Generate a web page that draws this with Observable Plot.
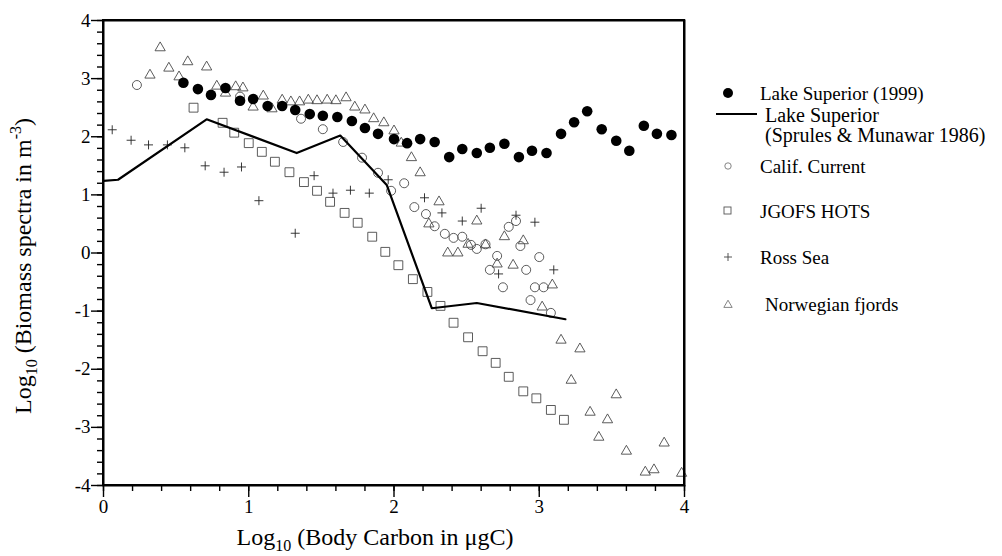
<!DOCTYPE html>
<html><head><meta charset="utf-8">
<script src="https://cdn.jsdelivr.net/npm/d3@7"></script>
<script src="https://cdn.jsdelivr.net/npm/@observablehq/plot@0.6"></script>
<style>body{margin:0;background:#fff;} #wrap{position:relative;width:1002px;height:556px;}</style>
</head><body><div id="wrap"></div>
<script>
// Lake Superior (1999) — filled circles
const superiorX = [0.55,0.65,0.74,0.84,0.94,1.03,1.13,1.23,1.32,1.42,1.51,1.61,1.71,1.80,1.89,2.00,2.09,2.18,2.28,2.38,2.47,2.57,2.66,2.76,2.86,2.95,3.05,3.15,3.24,3.33,3.43,3.53,3.62,3.72,3.81,3.91];
const superiorY = [2.93,2.82,2.72,2.84,2.62,2.65,2.53,2.53,2.46,2.39,2.36,2.34,2.27,2.15,2.05,1.96,1.89,1.96,1.91,1.65,1.79,1.72,1.81,1.88,1.65,1.76,1.72,2.05,2.25,2.44,2.13,1.93,1.76,2.19,2.05,2.03];
// Lake Superior (Sprules & Munawar 1986) — line
const sprulesX = [0,0.10,0.71,1.33,1.63,1.95,2.26,2.57,3.18];
const sprulesY = [1.24,1.26,2.30,1.72,2.02,1.17,-0.95,-0.86,-1.14];
// Calif. Current — open circles
const califX = [0.23,0.94,1.36,1.51,1.65,1.78,1.89,1.98,2.07,2.14,2.22,2.28,2.35,2.41,2.47,2.53,2.57,2.63,2.71,2.66,2.75,2.79,2.84,2.87,2.91,3.00,2.97,3.03,2.94,3.08];
const califY = [2.89,2.69,2.31,2.13,1.91,1.64,1.38,1.07,1.20,0.79,0.67,0.46,0.33,0.26,0.28,0.14,0.07,0.15,-0.05,-0.29,-0.59,0.45,0.55,0.12,-0.29,-0.07,-0.59,-0.59,-0.81,-1.03];
// JGOFS HOTS — open squares
const jgofsX = [0.62,0.82,0.90,1.00,1.09,1.18,1.28,1.38,1.47,1.56,1.66,1.75,1.85,1.94,2.03,2.13,2.23,2.32,2.41,2.51,2.61,2.70,2.79,2.89,2.98,3.08,3.17];
const jgofsY = [2.50,2.24,2.07,1.89,1.74,1.57,1.39,1.22,1.07,0.88,0.69,0.52,0.28,0.02,-0.21,-0.45,-0.67,-0.91,-1.20,-1.45,-1.69,-1.89,-2.13,-2.38,-2.50,-2.70,-2.87];
// Ross Sea — plus signs
const rossX = [0.06,0.19,0.31,0.44,0.56,0.70,0.83,0.95,1.07,1.32,1.45,1.58,1.70,1.83,1.96,2.21,2.33,2.47,2.60,2.84,2.97,3.10,2.72];
const rossY = [2.12,1.94,1.86,1.86,1.81,1.50,1.39,1.48,0.90,0.34,1.33,1.03,1.08,1.03,1.26,0.95,0.69,0.55,0.77,0.65,0.53,-0.29,-0.36];
// Norwegian fjords — open triangles
const norwX = [0.39,0.32,0.45,0.58,0.71,0.52,0.78,0.84,0.91,0.96,1.03,1.10,1.16,1.23,1.29,1.35,1.41,1.47,1.54,1.60,1.67,1.73,1.80,1.86,1.93,2.00,2.05,2.12,2.18,2.31,2.24,2.37,2.44,2.51,2.57,2.63,2.71,2.76,2.82,2.89,3.09,3.02,3.15,3.28,3.22,3.53,3.35,3.47,3.41,3.60,3.86,3.73,3.79,3.98];
const norwY = [3.53,3.06,3.18,3.29,3.20,3.03,2.87,2.75,2.86,2.84,2.51,2.70,2.48,2.63,2.60,2.60,2.63,2.62,2.63,2.62,2.67,2.51,2.46,2.31,2.24,2.10,1.89,1.64,1.38,0.88,0.50,0.00,0.00,0.15,0.55,0.14,-0.19,0.28,-0.21,0.21,-0.55,-0.93,-1.50,-1.65,-2.19,-2.44,-2.74,-2.87,-3.17,-3.41,-3.27,-3.77,-3.73,-3.79];

const xDomain = [0, 4];
const yDomain = [-4, 4];
const xMajor = [0,1,2,3,4];
const yMajor = [-4,-3,-2,-1,0,1,2,3,4];
const xMinor = d3.range(0, 4.0001, 0.2);
const yMinor = d3.range(-4, 4.0001, 0.2);

const pts = (xs, ys) => xs.map((x, i) => ({x, y: ys[i]}));
const superior = pts(superiorX, superiorY);
const sprules = pts(sprulesX, sprulesY);
const calif = pts(califX, califY);
const jgofs = pts(jgofsX, jgofsY);
const ross = pts(rossX, rossY);
const norw = pts(norwX, norwY);

const hollow = "#4a4a4a";
const font = "Liberation Serif, Times New Roman, serif";

const chart = Plot.plot({
  width: 1002, height: 556,
  marginLeft: 103, marginRight: 318, marginTop: 20, marginBottom: 71,
  style: {fontFamily: font, color: "black", background: "white"},
  x: {domain: xDomain, label: null},
  y: {domain: yDomain, label: null},
  marks: [
    Plot.axisX(xMinor, {tickSize: 6, tickFormat: () => "", strokeWidth: 1.4, label: null}),
    Plot.axisX(xMajor, {tickSize: 12, tickPadding: 2, tickFormat: d => String(d), fontSize: 19, strokeWidth: 1.4, label: null}),
    Plot.axisY(yMinor, {tickSize: 6, tickFormat: () => "", strokeWidth: 1.4, label: null}),
    Plot.axisY(yMajor, {tickSize: 12, tickPadding: 1, tickFormat: d => String(d), fontSize: 19, strokeWidth: 1.4, label: null}),
    Plot.dot(norw, {x: "x", y: "y", symbol: "triangle", r: 3.8, stroke: hollow, strokeWidth: 0.9, fill: "none"}),
    Plot.dot(calif, {x: "x", y: "y", symbol: "circle", r: 4.5, stroke: hollow, strokeWidth: 0.9, fill: "none"}),
    Plot.dot(jgofs, {x: "x", y: "y", symbol: "square", r: 5, stroke: hollow, strokeWidth: 0.9, fill: "none"}),
    Plot.dot(ross, {x: "x", y: "y", symbol: "plus", r: 3, stroke: "#222", strokeWidth: 0.9}),
    Plot.line(sprules, {x: "x", y: "y", stroke: "black", strokeWidth: 2.2}),
    Plot.dot(superior, {x: "x", y: "y", r: 5.3, fill: "black", stroke: "none"}),
    Plot.frame({stroke: "black", strokeWidth: 2})
  ]
});
document.getElementById("wrap").appendChild(chart);

const svg = d3.select(chart);
// Plot frame edges, positioned through the chart's own scales
const sx = chart.scale("x"), sy = chart.scale("y");
const fx0 = sx.apply(xDomain[0]), fx1 = sx.apply(xDomain[1]);
const fy0 = sy.apply(yDomain[1]), fy1 = sy.apply(yDomain[0]);
const edges = [[fx0, fy0, fx1, fy0], [fx1, fy0, fx1, fy1], [fx0, fy1, fx1, fy1], [fx0, fy0, fx0, fy1]];
svg.append("g").selectAll("line").data(edges).join("line")
  .attr("x1", d => d[0]).attr("y1", d => d[1]).attr("x2", d => d[2]).attr("y2", d => d[3])
  .attr("stroke", "#000").attr("stroke-width", 2).attr("stroke-linecap", "square");

// Axis titles
const xt = svg.append("text").attr("x", 375).attr("y", 545).attr("text-anchor", "middle")
  .attr("font-family", font).attr("font-size", 24).attr("fill", "black");
xt.append("tspan").text("Log");
xt.append("tspan").attr("font-size", 16).attr("dy", 6).text("10");
xt.append("tspan").attr("dy", -6).text(" (Body Carbon in \u03bcgC)");

const yt = svg.append("text").attr("transform", "translate(31,266) rotate(-90)").attr("text-anchor", "middle")
  .attr("font-family", font).attr("font-size", 24).attr("fill", "black");
yt.append("tspan").text("Log");
yt.append("tspan").attr("font-size", 16).attr("dy", 6).text("10");
yt.append("tspan").attr("dy", -6).text(" (Biomass spectra in m");
yt.append("tspan").attr("font-size", 16).attr("dy", -10).text("-3");
yt.append("tspan").attr("dy", 10).text(")");

// Legend
const lg = svg.append("g").attr("font-family", font).attr("font-size", 19).attr("fill", "black").attr("text-anchor", "start");
lg.append("circle").attr("cx", 728).attr("cy", 93).attr("r", 5).attr("fill", "black");
lg.append("text").attr("x", 760).attr("y", 93).attr("dy", "0.35em").text("Lake Superior (1999)");
lg.append("line").attr("x1", 716).attr("x2", 757).attr("y1", 114).attr("y2", 114).attr("stroke", "black").attr("stroke-width", 2.2);
lg.append("text").attr("x", 765).attr("y", 115).attr("dy", "0.35em").attr("font-size", 20).text("Lake Superior");
lg.append("text").attr("x", 765).attr("y", 135).attr("dy", "0.35em").attr("font-size", 20).text("(Sprules & Munawar 1986)");
lg.append("circle").attr("cx", 728).attr("cy", 166).attr("r", 3.2).attr("fill", "none").attr("stroke", "#777").attr("stroke-width", 0.9);
lg.append("text").attr("x", 760).attr("y", 166).attr("dy", "0.35em").text("Calif. Current");
lg.append("rect").attr("x", 724).attr("y", 207).attr("width", 7).attr("height", 7).attr("fill", "none").attr("stroke", "#555").attr("stroke-width", 0.9);
lg.append("text").attr("x", 760).attr("y", 211).attr("dy", "0.35em").text("JGOFS HOTS");
lg.append("path").attr("transform", "translate(728,257)").attr("d", "M-4,0H4M0,-4V4").attr("stroke", "#444").attr("stroke-width", 0.9);
lg.append("text").attr("x", 760).attr("y", 257).attr("dy", "0.35em").text("Ross Sea");
lg.append("path").attr("transform", "translate(728,305)").attr("d", d3.symbol(d3.symbolTriangle, 30)()).attr("fill", "none").attr("stroke", "#777").attr("stroke-width", 0.9);
lg.append("text").attr("x", 765).attr("y", 304).attr("dy", "0.35em").text("Norwegian fjords");
</script>
</body></html>
